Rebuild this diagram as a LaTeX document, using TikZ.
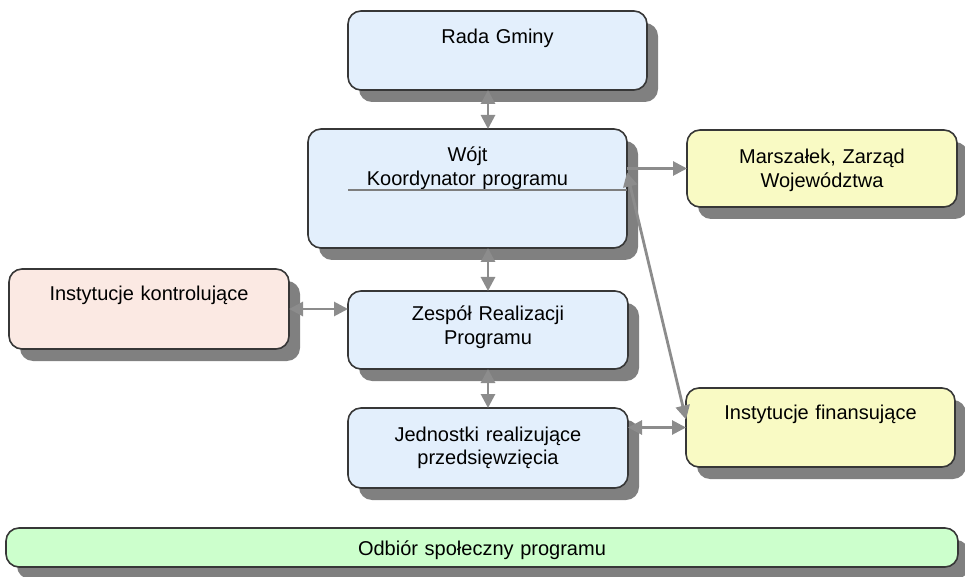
\documentclass[tikz,border=0pt]{standalone}
\usepackage{fontspec}
\setmainfont{Liberation Sans}
\usepackage{tikz}
\usetikzlibrary{arrows.meta, positioning, calc, shadows}
\definecolor{boxblue}{RGB}{227,239,252}
\definecolor{boxpink}{RGB}{251,233,227}
\definecolor{boxyellow}{RGB}{249,250,196}
\definecolor{boxgreen}{RGB}{204,255,204}
\definecolor{boxline}{RGB}{55,55,55}
\definecolor{shadowgray}{RGB}{128,128,128}
\definecolor{linkgray}{RGB}{140,140,140}

\begin{document}
\begin{tikzpicture}[x=1pt, y=1pt, >={Triangle[length=14pt,width=14pt]}, box/.style={rectangle, draw=boxline, line width=1.6pt, rounded corners=13pt, inner sep=0pt, outer sep=0pt, align=center, text height=33pt, font=\fontsize{20}{23.5}\selectfont, drop shadow={shadow xshift=11pt, shadow yshift=-12pt, fill=shadowgray, opacity=1}}, link/.style={draw=linkgray, line width=2.8pt}]
        \useasboundingbox (0,0) rectangle (965,576);
        \node[box, fill=boxblue, text width=319pt, text depth=86pt] (wojt) at (467.5,387.5) {Wójt\\Koordynator programu};
        \node[box, fill=boxblue, text width=299pt, text depth=46pt, above=39pt of wojt, xshift=30pt] (rada) {Rada Gminy};
        \node[box, fill=boxyellow, text width=270pt, text height=34pt, text depth=43pt, right=60pt of wojt, yshift=20pt] (marsz) {Marszałek, Zarząd\\Województwa};
        \node[box, fill=boxblue, text width=280pt, text height=30pt, text depth=48pt, below=43pt of wojt, xshift=20.5pt] (zesp) {Zespół Realizacji\\Programu};
        \node[box, fill=boxblue, text width=280pt, text depth=47pt, below=39pt of zesp] (jedn) {Jednostki realizujące\\przedsięwzięcia};
        \node[box, fill=boxpink, text width=280pt, text height=31pt, text depth=49pt, left=59pt of zesp, yshift=21pt] (kontrol) {Instytucje kontrolujące};
        \node[box, fill=boxyellow, text width=269pt, text height=31pt, text depth=48pt, right=58pt of jedn, yshift=20.5pt] (fin) {Instytucje finansujące};
        \node[box, fill=boxgreen, text width=952pt, text height=27pt, text depth=12pt] (odbior) at (482,28.5) {Odbiór społeczny programu};

        % connectors
        \draw[link, <->] (rada.south -| zesp.north) -- (wojt.north -| zesp.north);
        \draw[link, <->] (wojt.south -| zesp.north) -- (zesp.north);
        \draw[link, <->] (zesp.south) -- (jedn.north);
        \draw[link, <->] (kontrol.east) -- (kontrol.east -| zesp.west);
        \draw[link, ->] (wojt.east |- marsz.west) -- (marsz.west);
        \draw[link, <->] (jedn.east |- fin.west) -- (fin.west);
        \draw[link, <->] ([yshift=16pt]wojt.east) -- ([yshift=8pt]fin.west);
        \draw[draw=linkgray!90!black, line width=1.7pt] ([yshift=-1.5pt]wojt.center -| zesp.west) -- ([yshift=-1.5pt]wojt.east);
    \end{tikzpicture}
\end{document}
